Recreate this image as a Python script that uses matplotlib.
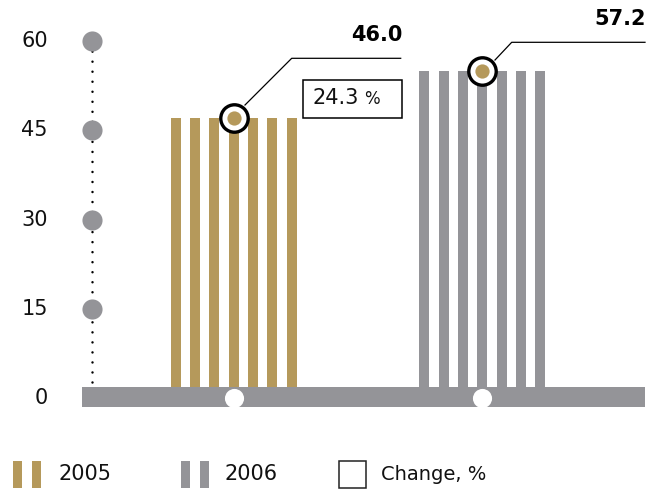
import matplotlib.pyplot as plt
from matplotlib.patches import Rectangle

# Data
years = ['2005', '2006']
bar_heights = [47.0, 55.0]          # drawn heights of the striped bars
value_labels = ['46.0', '57.2']     # printed values
change_label = '24.3'
y_ticks = [0, 15, 30, 45, 60]

gold = '#B5995B'
gray = '#949498'
colors = [gold, gray]

# pixel helpers (layout only): 0 sits at y=398 px, 60 at y=41 px
def v(py):
    return (398 - py) / 5.95

fig = plt.figure(figsize=(6.49, 4.91), dpi=100)
ax = fig.add_axes([0, 0, 1, 1])
ax.set_xlim(0, 649)
ax.set_ylim(v(491), v(0))
ax.axis('off')

# striped bars
starts = [170.7, 419.3]
period, sw = 19.3, 10
for x0, h, c in zip(starts, bar_heights, colors):
    xs = [x0 + k * period + sw / 2 for k in range(7)]
    ax.bar(xs, [h] * 7, width=sw, bottom=0, color=c, zorder=2)

# base band with white dots
ax.add_patch(Rectangle((82, v(407)), 645 - 82, v(387) - v(407), color=gray, lw=0, zorder=3))
centers = [starts[i] + 3 * period + sw / 2 for i in range(2)]
ax.scatter(centers, [0, 0], s=190, color='white', lw=0, zorder=4)

# y axis: dotted line with grey circles
ax.plot([92, 92], [v(382), 60], color='black', lw=1.8,
        linestyle=(0, (0.01, 4)), dash_capstyle='round', zorder=2)
ax.scatter([92] * 4, y_ticks[1:], s=210, color=gray, lw=0, zorder=3)
for t in y_ticks:
    ax.text(48, t, str(t), ha='right', va='center', fontsize=15, color='#111111')

# callout rings on top of bars
for xc, h in zip(centers, bar_heights):
    ax.scatter([xc], [h], s=390, facecolor='white', edgecolor='black', lw=2.4, zorder=5)
    ax.scatter([xc], [h], s=105, color=gold, lw=0, zorder=6)

# leader lines and value labels
ax.plot([245, 291.7, 400.7], [v(105), v(58.3), v(58.3)], color='black', lw=0.9, zorder=4)
ax.plot([495, 511.7, 645], [v(60), v(42.3), v(42.3)], color='black', lw=0.9, zorder=4)
ax.text(402, v(35), value_labels[0], ha='right', va='center', fontsize=15, fontweight='bold')
ax.text(646, v(19), value_labels[1], ha='right', va='center', fontsize=15, fontweight='bold')

# change box
ax.add_patch(Rectangle((303.3, v(118.3)), 401.7 - 303.3, v(80) - v(118.3),
                       facecolor='white', edgecolor='black', lw=1.1, zorder=4))
ax.text(313, v(98), change_label, ha='left', va='center', fontsize=15, color='#111111', zorder=5)
ax.text(364, v(99), '%', ha='left', va='center', fontsize=12, color='#111111', zorder=5)

# legend
ly0, ly1 = v(488), v(461)
for x in (12.7, 31.7):
    ax.add_patch(Rectangle((x, ly0), 9.3, ly1 - ly0, color=gold, lw=0))
for x in (181, 200):
    ax.add_patch(Rectangle((x, ly0), 9.3, ly1 - ly0, color=gray, lw=0))
ax.add_patch(Rectangle((339.3, ly0), 26.7, ly1 - ly0, facecolor='white', edgecolor='#222222', lw=1.1))
ym = v(474)
ax.text(59, ym, years[0], ha='left', va='center', fontsize=15, color='#111111')
ax.text(224, ym, years[1], ha='left', va='center', fontsize=15, color='#111111')
ax.text(381, ym, 'Change, %', ha='left', va='center', fontsize=14, color='#111111')

fig.savefig('out.png', dpi=100)
